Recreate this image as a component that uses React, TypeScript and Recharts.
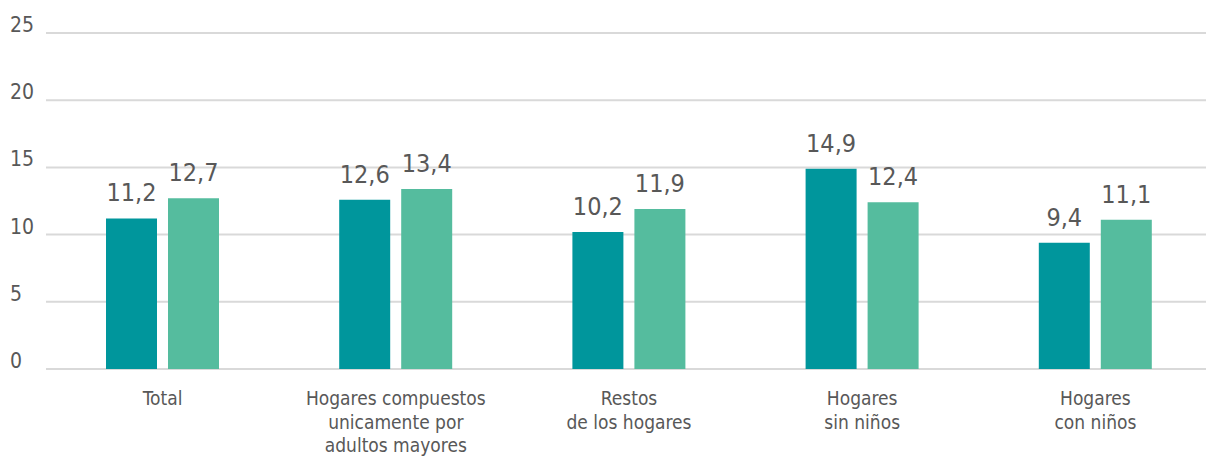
import React from 'react';
import { BarChart, Bar, XAxis, YAxis, CartesianGrid, LabelList } from 'recharts';

const categories = [
    'Total',
    'Hogares compuestos\nunicamente por\nadultos mayores',
    'Restos\nde los hogares',
    'Hogares\nsin niños',
    'Hogares\ncon niños',
];
const serieA = [11.2, 12.6, 10.2, 14.9, 9.4];
const serieB = [12.7, 13.4, 11.9, 12.4, 11.1];
const yTicks = [0, 5, 10, 15, 20, 25];

const FONT = '"DejaVu Sans Condensed", "Liberation Sans Narrow", "Roboto", sans-serif';
const TEXT = '#585858';

const data = categories.map((name, i) => ({ name, a: serieA[i], b: serieB[i] }));

const fmt = (v: any) => String(v).replace('.', ',');

const XTick: React.FC<any> = ({ x, y, payload }) => {
    const lines = String(payload.value).split('\n');
    return (
        <text x={x} y={y} textAnchor="middle" fill={TEXT} fontSize={19} fontFamily={FONT}>
            {lines.map((l, i) => (
                <tspan key={i} x={x} dy={i === 0 ? 28 : 23.5}>{l}</tspan>
            ))}
        </text>
    );
};

const YTick: React.FC<any> = ({ y, payload }) => (
    <text x={10} y={y - 1} textAnchor="start" fill={TEXT} fontSize={21} fontFamily={FONT}>
        {payload.value}
    </text>
);

const App: React.FC = () => {
    return (
        <div style={{ width: 1206, height: 459, overflow: 'hidden', position: 'absolute', left: 0, top: 0, background: '#fff' }}>
            <BarChart
                width={1212}
                height={459}
                data={data}
                margin={{ top: 33, right: 0, left: 0, bottom: 0 }}
                barSize={51}
                barGap={11}
            >
                <CartesianGrid vertical={false} stroke="#d9d9d9" strokeWidth={2} />
                <XAxis
                    dataKey="name"
                    axisLine={false}
                    tickLine={false}
                    height={90}
                    interval={0}
                    tick={<XTick />}
                />
                <YAxis
                    width={46}
                    domain={[0, 25]}
                    ticks={yTicks}
                    axisLine={false}
                    tickLine={false}
                    tick={<YTick />}
                />
                <Bar dataKey="a" fill="#00969c" isAnimationActive={false}>
                    <LabelList dataKey="a" position="top" offset={17} formatter={fmt} fill={TEXT} fontSize={25} fontFamily={FONT} />
                </Bar>
                <Bar dataKey="b" fill="#55bc9e" isAnimationActive={false}>
                    <LabelList dataKey="b" position="top" offset={17} formatter={fmt} fill={TEXT} fontSize={25} fontFamily={FONT} />
                </Bar>
            </BarChart>
        </div>
    );
};

export default App;
